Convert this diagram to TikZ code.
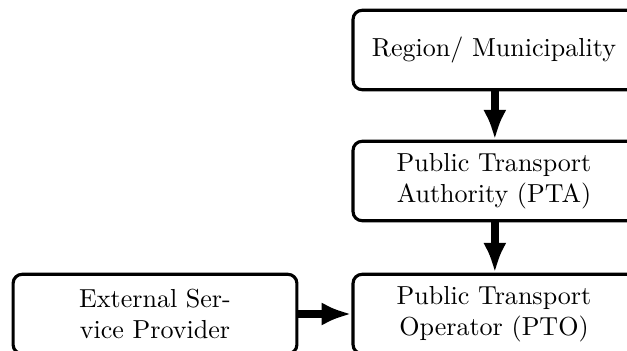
\documentclass[tikz,border=0pt]{standalone}
\usetikzlibrary{arrows.meta}
% right-hand padding that keeps the text of the wide boxes left of centre
\newcommand{\padr}{\rule{3.84pt}{0pt}}
\tikzset{
  block/.style={draw, very thick, rounded corners=3.5pt, align=center,
    minimum width=112.1pt, minimum height=30.5pt, inner sep=2pt},
  flow/.style={line width=3pt, -{Latex[length=11.5pt,width=9pt]}},
}
\begin{document}
\begin{tikzpicture}[x=0.384pt, y=-0.384pt]
  \useasboundingbox (0,0) rectangle (627,350);
  \clip (0,0) rectangle (627,350);
  % organisation chain
  \node[block] (region) at (499,50)  {Region/ Municipality\padr};
  \node[block] (pta)    at (499,181) {Public Transport\padr\\Authority (PTA)\padr};
  \node[block] (pto)    at (499,314) {Public Transport\padr\\Operator (PTO)\padr};
  \node[block, minimum width=109pt] (esp) at (155,314) {External Ser-\\vice Provider};
  % relations
  \draw[flow] ([xshift=-1.6pt]region.south) -- ([xshift=-1.6pt]pta.north);
  \draw[flow] ([xshift=-1.6pt]pta.south) -- ([xshift=-1.6pt]pto.north);
  \draw[flow] (esp) -- (pto);
\end{tikzpicture}
\end{document}
